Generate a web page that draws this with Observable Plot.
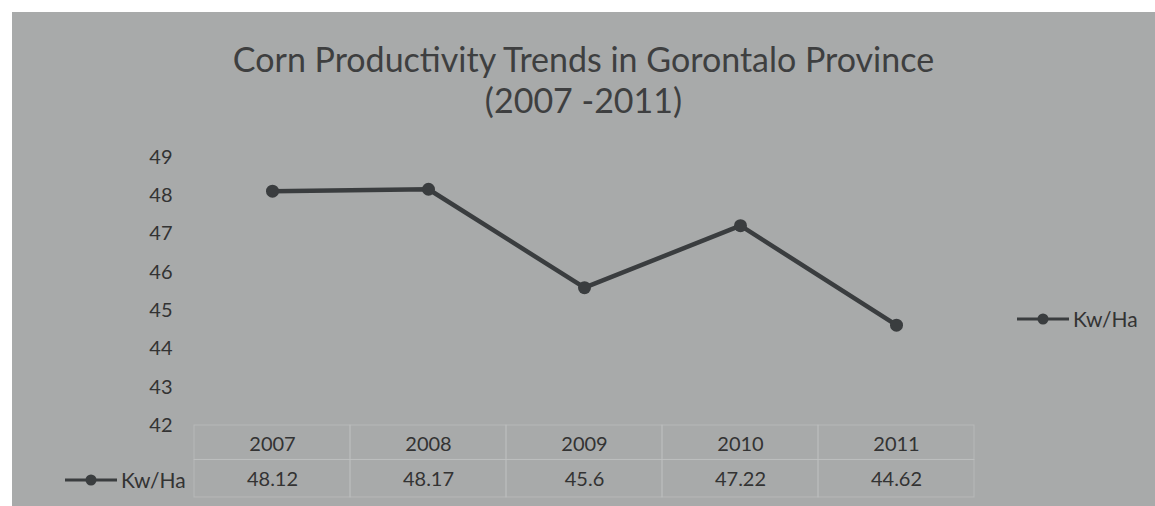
<!DOCTYPE html>
<html>
<head>
<meta charset="utf-8">
<script src="https://cdn.jsdelivr.net/npm/d3@7"></script>
<script src="https://cdn.jsdelivr.net/npm/@observablehq/plot@0.6"></script>
<style>
  html, body { margin: 0; padding: 0; background: #fff; }
  #wrap { position: relative; width: 1155px; height: 506px; overflow: hidden; background: #fff; font-family: Lato, "Open Sans", sans-serif; }
  #panel { position: absolute; left: 12px; top: 12px; right: 0; bottom: 0; background: #a8aaaa; }
  #title { position: absolute; left: 12px; right: 0; top: 38px; text-align: center; font-size: 34px; line-height: 41px; color: #3e3f40; }
  #chart { position: absolute; left: 0; top: 130px; }
  .leg { position: absolute; display: flex; align-items: center; font-size: 21px; line-height: 26px; color: #333; }
  .leg svg { margin-right: 4px; }
</style>
</head>
<body>
<div id="wrap">
  <div id="panel"></div>
  <div id="title"></div>
  <div id="chart"></div>
  <div class="leg" id="legRight" style="left:1017px; top:306px;"></div>
  <div class="leg" id="legTable" style="left:65px; top:467px;"></div>
</div>
<script>
const years = ["2007", "2008", "2009", "2010", "2011"];
const values = [48.12, 48.17, 45.6, 47.22, 44.62];
const valueLabels = ["48.12", "48.17", "45.6", "47.22", "44.62"];
const yTicks = [42, 43, 44, 45, 46, 47, 48, 49];
const seriesName = "Kw/Ha";
const titleLines = ["Corn Productivity Trends in Gorontalo Province", "(2007 -2011)"];

const lineColor = "#3a3d3f";
const data = years.map((y, i) => ({year: y, value: values[i], label: valueLabels[i]}));

document.getElementById("title").innerHTML = titleLines.join("<br>");

const glyph = `<svg width="52" height="14"><line x1="0" y1="7" x2="52" y2="7" stroke="${lineColor}" stroke-width="3"/><circle cx="26" cy="7" r="5.5" fill="${lineColor}"/></svg>`;
document.getElementById("legRight").innerHTML = glyph + `<span>${seriesName}</span>`;
document.getElementById("legTable").innerHTML = glyph + `<span>${seriesName}</span>`;

const chart = Plot.plot({
  width: 1155,
  height: 376,
  marginLeft: 193,
  marginRight: 180,
  marginTop: 27,
  marginBottom: 81,
  style: {background: "transparent", fontFamily: "Lato, 'Open Sans', sans-serif", fontSize: "20px", color: "#333", overflow: "visible"},
  x: {type: "band", domain: years, padding: 0, label: null},
  y: {domain: [42, 49], ticks: yTicks, label: null},
  marks: [
    Plot.barY(years, {x: d => d, y1: 42, y2: 41.1, fill: "none", stroke: "#c2c4c4", strokeWidth: 1, strokeOpacity: 0.55}),
    Plot.barY(years, {x: d => d, y1: 41.1, y2: 40.12, fill: "none", stroke: "#c2c4c4", strokeWidth: 1, strokeOpacity: 0.55}),
    Plot.axisY({ticks: yTicks, tickFormat: d3.format("d"), tickSize: 0, tickPadding: 21, fontSize: 20, label: null}),
    Plot.axisX({tickSize: 0, tickPadding: 11, fontSize: 20, label: null}),
    Plot.line(data, {x: "year", y: "value", stroke: lineColor, strokeWidth: 4.5}),
    Plot.dot(data, {x: "year", y: "value", r: 6.5, fill: lineColor}),
    Plot.text(data, {x: "year", text: "label", frameAnchor: "bottom", dy: 60, fontSize: 20, fill: "#333"})
  ]
});
document.getElementById("chart").appendChild(chart);
</script>
</body>
</html>
